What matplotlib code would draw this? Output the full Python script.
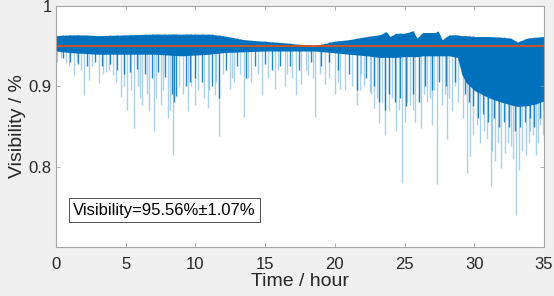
import matplotlib
matplotlib.use('Agg')
import matplotlib.pyplot as plt
import numpy as np

plt.rcParams['font.family'] = ['Liberation Sans', 'DejaVu Sans']

# ---- data ----
# upper envelope of the dense band
env_t = [0, 1, 2, 3, 5, 7, 9, 11, 12, 13.5, 15, 16.5, 17.6, 18.5, 19.9, 21, 22.3,
         23.2, 23.7, 23.95, 24.4, 25.0, 25.6, 25.9, 26.3, 27.2, 27.4, 27.7, 28.2,
         28.8, 29.1, 29.4, 30.0, 31.0, 32.0, 32.6, 33.1, 33.8, 34.4, 35]
env_top = [0.963, 0.964, 0.964, 0.963, 0.964, 0.965, 0.965, 0.965, 0.963, 0.958, 0.956,
           0.954, 0.952, 0.950, 0.956, 0.958, 0.962, 0.964, 0.968, 0.962, 0.966, 0.966,
           0.969, 0.960, 0.967, 0.967, 0.969, 0.958, 0.964, 0.964, 0.963, 0.963, 0.962,
           0.962, 0.961, 0.960, 0.955, 0.960, 0.961, 0.962]
# lower edge of the solid dark band
band_lo = [0.944, 0.942, 0.941, 0.940, 0.940, 0.940, 0.938, 0.940, 0.942, 0.943, 0.944,
           0.944, 0.944, 0.944, 0.942, 0.940, 0.938, 0.936, 0.936, 0.936, 0.936, 0.937,
           0.937, 0.937, 0.938, 0.938, 0.938, 0.938, 0.938, 0.936, 0.915, 0.905, 0.895,
           0.886, 0.880, 0.877, 0.875, 0.876, 0.878, 0.882]

# light (thin) dips: time, minimum visibility
dip_t = [0.1, 0.36, 0.72, 0.9, 1.3, 1.5, 1.8, 2.0, 2.4, 2.6, 3.1, 3.4, 3.6, 3.8, 4.06,
         4.3, 4.66, 4.9, 5.1, 5.4, 5.6, 5.9, 6.0, 6.2, 6.5, 6.7, 7.05, 7.2, 7.5, 7.7,
         8.0, 8.2, 8.37, 8.8, 9.1, 9.47, 9.7, 9.95, 10.2, 10.6, 10.9, 11.0, 11.38, 11.5,
         11.7, 12.0, 12.45, 12.6, 12.8, 13.2, 13.5, 13.8, 14.0, 14.5, 14.8, 15.2, 15.7,
         15.9, 16.4, 16.6, 16.9, 17.2, 17.6, 17.9, 18.1, 18.4, 18.6, 18.9, 19.3, 19.6,
         20.0, 20.2, 20.4, 20.7, 21.2, 21.6, 21.8, 21.9, 22.1, 22.5, 22.6, 22.8, 23.0,
         23.2, 23.4, 23.6, 23.9, 24.1, 24.4, 24.6, 24.8, 25.0, 25.2, 25.4, 25.6, 25.75,
         26.0, 26.2, 26.4, 26.6, 26.8, 26.97, 27.1, 27.3, 27.7, 27.9, 28.05, 28.2, 28.4,
         28.6, 28.8, 29.2, 29.5, 29.7, 29.9, 30.2, 30.4, 30.7, 30.9, 31.2, 31.3, 31.5,
         31.7, 31.9, 32.2, 32.4, 32.6, 32.8, 33.0, 33.2, 33.4, 33.7, 33.9, 34.0, 34.2,
         34.4, 34.6, 34.7, 34.9]
dip_v = [0.930, 0.935, 0.929, 0.925, 0.914, 0.930, 0.920, 0.889, 0.908, 0.925, 0.904,
         0.915, 0.918, 0.920, 0.914, 0.905, 0.887, 0.900, 0.871, 0.895, 0.848, 0.900,
         0.885, 0.877, 0.890, 0.869, 0.844, 0.885, 0.877, 0.895, 0.861, 0.870, 0.815,
         0.900, 0.890, 0.869, 0.900, 0.877, 0.895, 0.885, 0.873, 0.895, 0.889, 0.905,
         0.838, 0.915, 0.897, 0.910, 0.905, 0.915, 0.862, 0.910, 0.906, 0.915, 0.889,
         0.910, 0.897, 0.920, 0.901, 0.915, 0.910, 0.889, 0.903, 0.920, 0.914, 0.910,
         0.862, 0.915, 0.903, 0.910, 0.891, 0.905, 0.897, 0.895, 0.900, 0.877, 0.895,
         0.915, 0.900, 0.893, 0.890, 0.873, 0.885, 0.854, 0.880, 0.840, 0.869, 0.885,
         0.844, 0.870, 0.780, 0.856, 0.880, 0.877, 0.870, 0.856, 0.880, 0.848, 0.890,
         0.880, 0.885, 0.852, 0.895, 0.778, 0.877, 0.890, 0.834, 0.885, 0.869, 0.900,
         0.881, 0.860, 0.792, 0.813, 0.840, 0.852, 0.830, 0.844, 0.835, 0.776, 0.820,
         0.807, 0.830, 0.798, 0.817, 0.830, 0.826, 0.810, 0.740, 0.796, 0.820, 0.815,
         0.830, 0.844, 0.840, 0.815, 0.830, 0.852, 0.840]

# darker, denser strands
dark_t = [0.5, 1.0, 1.6, 2.2, 2.8, 3.3, 3.9, 4.4, 4.9, 5.3, 5.8, 6.4, 6.9, 7.3, 7.8,
          8.3, 8.45, 8.6, 9.3, 9.6, 10.0, 10.5, 11.2, 11.7, 12.2, 13.0, 13.6, 14.3,
          15.0, 15.5, 16.1, 16.8, 17.4, 18.3, 19.0, 19.6, 20.2, 21.0, 21.6, 22.2, 22.8,
          23.2, 23.6, 23.9, 24.3, 24.7, 25.1, 25.6, 26.0, 26.5, 27.0, 27.5, 28.0, 28.6,
          29.3, 29.6, 29.9, 30.3, 30.6, 31.0, 31.4, 31.8, 32.1, 32.5, 32.9, 33.3, 33.6,
          34.0, 34.3, 34.7, 35.0]
dark_v = [0.935, 0.930, 0.928, 0.925, 0.930, 0.925, 0.928, 0.920, 0.915, 0.918, 0.922,
          0.915, 0.910, 0.918, 0.912, 0.890, 0.880, 0.888, 0.900, 0.905, 0.910, 0.905,
          0.900, 0.885, 0.920, 0.925, 0.910, 0.925, 0.928, 0.920, 0.925, 0.925, 0.920,
          0.930, 0.925, 0.930, 0.920, 0.915, 0.895, 0.910, 0.900, 0.880, 0.870, 0.890,
          0.880, 0.885, 0.875, 0.890, 0.880, 0.900, 0.895, 0.905, 0.900, 0.905,
          0.890, 0.880, 0.875, 0.860, 0.865, 0.855, 0.860, 0.850, 0.855, 0.850, 0.845,
          0.850, 0.855, 0.860, 0.850, 0.860, 0.870]

mean_vis = 0.95
label = 'Visibility=95.56%\u00b11.07%'

BLUE = '#0072BD'
ORANGE = '#D95319'

fig = plt.figure(figsize=(5.54, 2.96), dpi=100, facecolor='#f0f0f0')
ax = fig.add_axes([0.101, 0.1655, 0.881, 0.8142])
ax.set_facecolor('white')

ax.fill_between(env_t, band_lo, env_top, color=BLUE, lw=0)

top_dip = np.interp(dip_t, env_t, env_top)
ax.vlines(dip_t, dip_v, top_dip, color=BLUE, alpha=0.33, lw=1.0)
top_dark = np.interp(dark_t, env_t, env_top)
ax.vlines(dark_t, dark_v, top_dark, color=BLUE, alpha=0.85, lw=1.0)

ax.axhline(mean_vis, color=ORANGE, lw=1.3)

ax.set_xlim(0, 35)
ax.set_ylim(0.7, 1.0)
ax.set_xticks([0, 5, 10, 15, 20, 25, 30, 35])
ax.set_yticks([0.8, 0.9, 1.0])
ax.set_yticklabels(['0.8', '0.9', '1'])
ax.tick_params(direction='in', length=3, width=0.6, color='#a6a6a6',
               labelsize=12, labelcolor='#262626', top=True, right=True,
               labeltop=False, labelright=False)
ax.tick_params(axis='x', pad=7)
ax.tick_params(axis='y', pad=3)
for s in ax.spines.values():
    s.set_color('#a6a6a6')
    s.set_linewidth(0.8)

ax.set_xlabel('Time / hour', fontsize=14, color='#262626', labelpad=1)
ax.set_ylabel('Visibility / %', fontsize=14, color='#262626', labelpad=2)

ax.text(1.22, 0.746, label, fontsize=12, color='black', va='center', ha='left',
        bbox=dict(boxstyle='square,pad=0.25', fc='white', ec='#333333', lw=0.6))

plt.savefig('out.png', dpi=100, facecolor=fig.get_facecolor())
plt.close()
